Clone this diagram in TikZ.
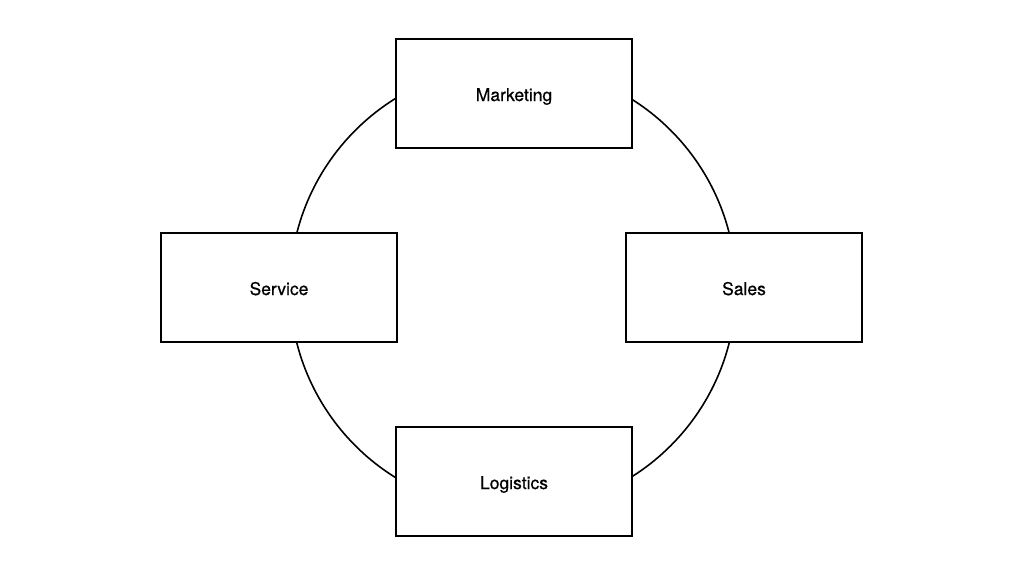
\documentclass[tikz,border=0pt]{standalone}
\usepackage{fontspec}
\setmainfont{TeX Gyre Heros}
\newfontfamily\labelfont[FakeBold=0.6]{TeX Gyre Heros}
\begin{document}
\begin{tikzpicture}[x=1pt,y=-1pt,
  unit/.style={draw=black,line width=1.6pt,fill=white,minimum width=236pt,minimum height=109pt,inner sep=0pt,text height=15pt,text depth=0pt,font=\labelfont\fontsize{17.5}{19}\selectfont},
  ring/.style={draw=black,line width=1.6pt}]
\useasboundingbox (0,0) rectangle (1024,576);
\node[circle,ring,minimum size=446pt,inner sep=0pt] (c) at (513,288) {};
\node[unit] (mk) at (514,93.5) {Marketing};
\node[unit] (sv) at (279,287.5) {Service};
\node[unit] (sl) at (744,287.5) {Sales};
\node[unit] (lg) at (514,481.5) {Logistics};
\end{tikzpicture}
\end{document}
